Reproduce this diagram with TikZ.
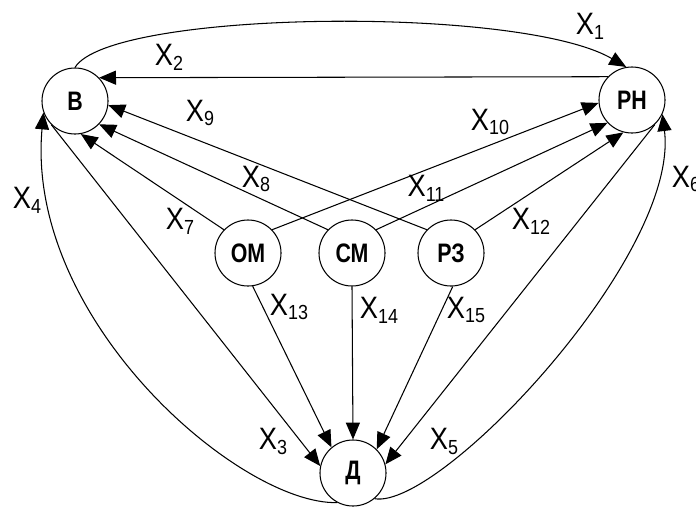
\documentclass[tikz,border=0pt]{standalone}
\usepackage{fontspec}
\setmainfont{Liberation Sans}
\newfontfamily\nodefont[FakeStretch=0.8]{Liberation Sans}
\newfontfamily\labfont[FakeStretch=0.88]{Liberation Sans}
\usetikzlibrary{arrows.meta}
\newcommand{\xs}[1]{X\raisebox{-0.3ex}{\fontsize{14.5}{14.5}\selectfont #1}}
\tikzset{
  sta/.style={draw, circle, line width=0.75pt, inner sep=0pt, minimum size=1.65cm,
              font=\nodefont\fontsize{19}{19}\selectfont\bfseries},
  lnk/.style={-{Triangle[length=12pt,width=10pt]}, line width=0.75pt},
  lbl/.style={font=\labfont\fontsize{22}{22}\selectfont, inner sep=0pt},
}

\begin{document}
\begin{tikzpicture}[x=0.025cm, y=-0.025cm]
    \useasboundingbox (0,0) rectangle (696,506);
    \node[sta] (B) at (75,101) {В};
    \node[sta] (RN) at (632,100) {РН};
    \node[sta] (OM) at (248,253) {ОМ};
    \node[sta] (SM) at (352,253) {СМ};
    \node[sta] (RZ) at (451,253) {РЗ};
    \node[sta] (D) at (353,473) {Д};
    \draw[lnk] (B.90) .. controls (110,10) and (520,5) .. (RN.100);
    \draw[lnk] (RN.136) -- (B.44);
    \draw[lnk] (B.-135) -- (D.168);
    \draw[lnk] (D.-118) .. controls (240,505) and (25,320) .. (B.-160);
    \draw[lnk] (RN.-47) -- (D.15);
    \draw[lnk] (D.-50) .. controls (440,510) and (680,255) .. (RN.-25);
    \draw[lnk] (OM.136) -- (B.-80);
    \draw[lnk] (SM.136) -- (B.-44);
    \draw[lnk] (RZ.136) -- (B.-7);
    \draw[lnk] (OM.44) -- (RN.185);
    \draw[lnk] (SM.44) -- (RN.-137);
    \draw[lnk] (RZ.44) -- (RN.-105);
    \draw[lnk] (OM.-82) -- (D.130);
    \draw[lnk] (SM.south) -- (D.north);
    \draw[lnk] (RZ.-87) -- (D.45);
    \node[lbl] (l1) at (590,26) {\xs{1}};
    \node[lbl] (l2) at (169,57) {\xs{2}};
    \node[lbl] (l3) at (273,441) {\xs{3}};
    \node[lbl] (l4) at (27,200) {\xs{4}};
    \node[lbl] (l5) at (444,441) {\xs{5}};
    \node[lbl] (l6) at (686,179) {\xs{6}};
    \node[lbl] (l7) at (180,221) {\xs{7}};
    \node[lbl] (l8) at (256,179) {\xs{8}};
    \node[lbl] (l9) at (200,113) {\xs{9}};
    \node[lbl] (l10) at (490,122) {\xs{10}};
    \node[lbl] (l11) at (426,188) {\xs{11}};
    \node[lbl] (l12) at (531,221) {\xs{12}};
    \node[lbl] (l13) at (289,307) {\xs{13}};
    \node[lbl] (l14) at (379,310) {\xs{14}};
    \node[lbl] (l15) at (466,310) {\xs{15}};
  \end{tikzpicture}
\end{document}
